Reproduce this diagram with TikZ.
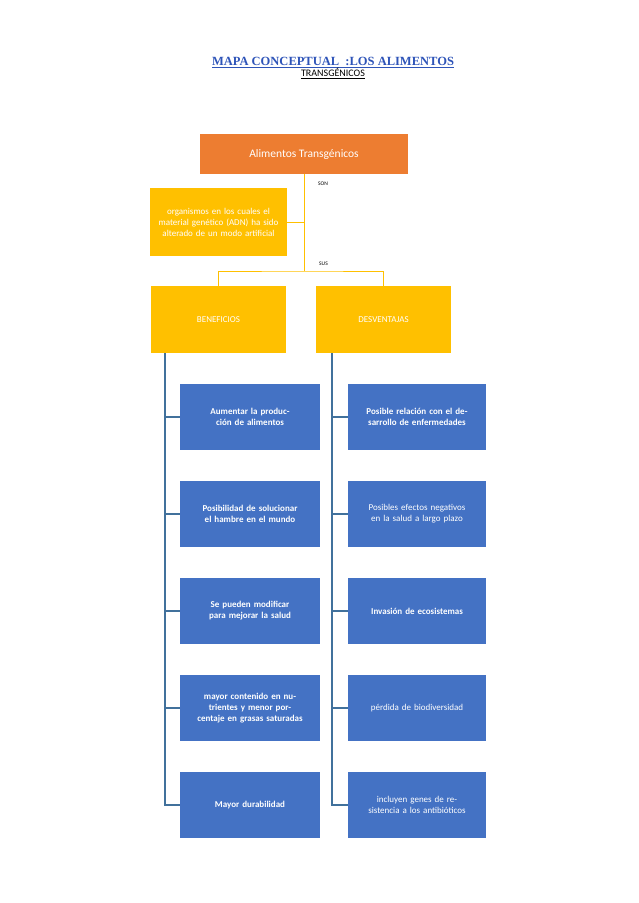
\documentclass[tikz,border=0pt]{standalone}
\usepackage{fontspec}
\setmainfont{Carlito}
\newfontfamily\titlefont{Liberation Serif}
\usetikzlibrary{positioning}
\definecolor{orangebox}{HTML}{ED7D31}
\definecolor{yellowbox}{HTML}{FFC000}
\definecolor{bluebox}{HTML}{4472C4}
\definecolor{bluelink}{HTML}{41719C}
\definecolor{titleblue}{HTML}{2E54B8}
\begin{document}
\begin{tikzpicture}[x=1pt,y=-1pt,
  every node/.style={align=center, inner sep=2pt},
  yellowcard/.style={fill=yellowbox, text=white, minimum width=135pt, minimum height=67pt, font=\fontsize{9}{11}\selectfont},
  bluecard/.style={fill=bluebox, text=white, minimum width=140pt, minimum height=66pt, text width=134pt, font=\bfseries\fontsize{9}{11}\selectfont},
  yellowlink/.style={draw=yellowbox, line width=0.9pt},
  bluelinkline/.style={draw=bluelink, line width=1.2pt}]
  \useasboundingbox (0,0) rectangle (638,903);
  % title
  \node (title) at (333,68) {\titlefont\bfseries\color{titleblue}\fontsize{12.5}{15}\selectfont\underline{MAPA CONCEPTUAL\ \ :LOS ALIMENTOS}\\[-1pt]\underline{TRANSGÉNICOS}};
  % top part
  \node[fill=orangebox, text=white, minimum width=208pt, minimum height=40pt, font=\fontsize{11.5}{13}\selectfont] (root) at (304,154) {Alimentos Transgénicos};
  \node[fill=yellowbox, text=white, minimum width=137pt, minimum height=68pt, text width=135pt, inner sep=1pt, font=\fontsize{9}{11}\selectfont] (def) at (218.5,222) {organismos en los cuales el material genético (ADN) ha sido alterado de un modo artificial};
  \node[yellowcard] (ben) at (218.5,319.5) {BENEFICIOS};
  \node[yellowcard] (des) at (383.5,319.5) {DESVENTAJAS};
  \coordinate (split) at (304,271);
  \draw[yellowlink] (root.south) -- (split);
  \draw[yellowlink] (root.south |- def.east) -- (def.east);
  \draw[yellowlink] (ben.north) |- (split) -| (des.north);
  \node[font=\fontsize{5.5}{6}\selectfont, right=12pt of root.south, anchor=north west, yshift=-6pt] (son) {SON};
  \node[font=\fontsize{5.5}{6}\selectfont, anchor=south west] (sus) at (317,268) {SUS};
  % benefits
  \node[bluecard] (b1) at (250,417) {Aumentar la producción de alimentos};
  \node[bluecard] (b2) at (250,514) {Posibilidad de solucionar el hambre en el mundo};
  \node[bluecard] (b3) at (250,611) {Se pueden modificar para mejorar la salud};
  \node[bluecard] (b4) at (250,708) {mayor contenido en nutrientes y menor porcentaje en grasas saturadas};
  \node[bluecard] (b5) at (250,805) {Mayor durabilidad};
  % drawbacks
  \node[bluecard, minimum width=138pt] (d1) at (417,417) {Posible relación con el desarrollo de enfermedades};
  \node[bluecard, minimum width=138pt, font=\fontsize{9}{11}\selectfont] (d2) at (417,514) {Posibles efectos negativos en la salud a largo plazo};
  \node[bluecard, minimum width=138pt] (d3) at (417,611) {Invasión de ecosistemas};
  \node[bluecard, minimum width=138pt, font=\fontsize{9}{11}\selectfont] (d4) at (417,708) {pérdida de biodiversidad};
  \node[bluecard, minimum width=138pt, text width=100pt, font=\fontsize{9}{11}\selectfont] (d5) at (417,805) {incluyen genes de resistencia a los antibióticos};
  \coordinate (bspine) at (165,353);
  \coordinate (dspine) at (332,353);
  \foreach \n in {b1,b2,b3,b4,b5} \draw[bluelinkline] (bspine) |- (\n.west);
  \foreach \n in {d1,d2,d3,d4,d5} \draw[bluelinkline] (dspine) |- (\n.west);
\end{tikzpicture}
\end{document}
